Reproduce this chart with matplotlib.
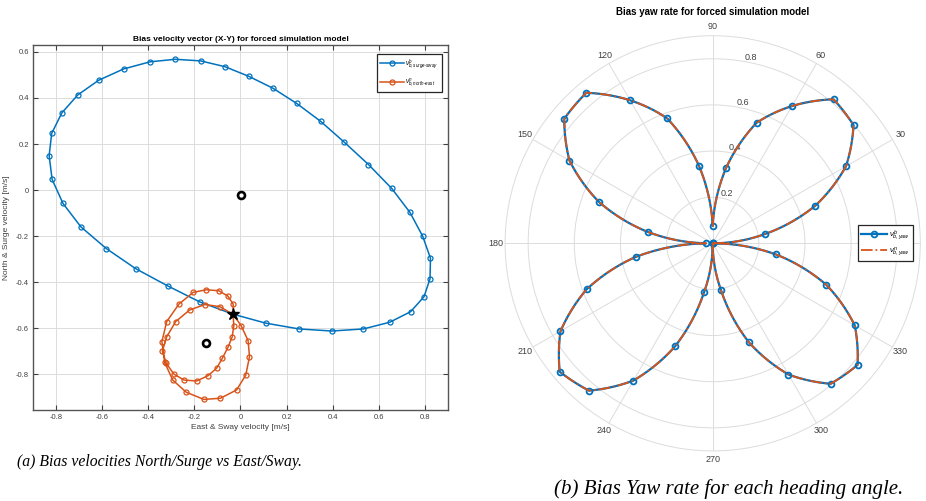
import numpy as np
import matplotlib
matplotlib.use("Agg")
import matplotlib.pyplot as plt

plt.rcParams['font.family'] = ['Liberation Sans', 'DejaVu Sans']
plt.rcParams['mathtext.fontset'] = 'custom'
plt.rcParams['mathtext.rm'] = 'Liberation Sans'
plt.rcParams['mathtext.it'] = 'Liberation Sans:italic'

BLUE = '#0072BD'
ORANGE = '#D95319'

# ---------------- data: left panel (body-frame bias, surge-sway) ----------------
blue_x = [-0.032, 0.110, 0.254, 0.396, 0.533, 0.647, 0.738, 0.796, 0.822, 0.824,
          0.790, 0.735, 0.656, 0.555, 0.450, 0.347, 0.244, 0.141, 0.036, -0.068,
          -0.173, -0.283, -0.392, -0.507, -0.615, -0.706, -0.775, -0.819, -0.830,
          -0.817, -0.770, -0.692, -0.582, -0.455, -0.316, -0.176, -0.032]
blue_y = [-0.539, -0.578, -0.603, -0.612, -0.603, -0.574, -0.528, -0.463, -0.385, -0.296,
          -0.200, -0.097, 0.007, 0.111, 0.208, 0.299, 0.376, 0.442, 0.494, 0.536,
          0.561, 0.568, 0.557, 0.526, 0.477, 0.413, 0.335, 0.246, 0.149,
          0.046, -0.058, -0.160, -0.254, -0.341, -0.416, -0.486, -0.539]

# north-east bias trajectory (two loops through the start point)
orange_x = [-0.032, 0.003, 0.033, 0.039, 0.023, -0.017, -0.087, -0.159, -0.235, -0.294,
            -0.329, -0.341, -0.320, -0.267, -0.205, -0.149, -0.095, -0.055, -0.032, -0.032,
            -0.029, -0.036, -0.053, -0.079, -0.104, -0.141, -0.190, -0.245, -0.289, -0.322,
            -0.339, -0.320, -0.281, -0.221, -0.155, -0.090, -0.032]
orange_y = [-0.540, -0.589, -0.654, -0.723, -0.803, -0.868, -0.904, -0.909, -0.878, -0.825,
            -0.748, -0.658, -0.571, -0.495, -0.444, -0.433, -0.437, -0.460, -0.495, -0.540,
            -0.589, -0.637, -0.680, -0.731, -0.774, -0.806, -0.829, -0.825, -0.799, -0.752,
            -0.699, -0.637, -0.571, -0.521, -0.497, -0.506, -0.540]

start_pt = (-0.032, -0.539)
centre_b = (0.003, -0.022)
centre_n = (-0.151, -0.663)

xticks = [-0.8, -0.6, -0.4, -0.2, 0, 0.2, 0.4, 0.6, 0.8]
xticklabels = ['-0.8', '-0.6', '-0.4', '-0.2', '0', '0.2', '0.4', '0.6', '0.8']
yticks = [-0.8, -0.6, -0.4, -0.2, 0, 0.2, 0.4, 0.6]
yticklabels = ['-0.8', '-0.6', '-0.4', '-0.2', '0', '0.2', '0.4', '0.6']

# ---------------- data: right panel (yaw rate vs heading) ----------------
theta_deg = [0, 10, 20, 30, 40, 50, 60, 70, 80, 90,
             100, 110, 120, 130, 140, 150, 160, 170, 180,
             190, 200, 210, 220, 230, 240, 250, 260, 270,
             280, 290, 300, 310, 320, 330, 340, 350, 360]
yaw_r = [0.0, 0.229, 0.471, 0.667, 0.797, 0.815, 0.687, 0.556, 0.330, 0.075,
         0.340, 0.576, 0.716, 0.852, 0.840, 0.717, 0.525, 0.287, 0.029,
         0.338, 0.581, 0.762, 0.866, 0.834, 0.687, 0.474, 0.215, 0.0,
         0.205, 0.455, 0.657, 0.795, 0.820, 0.711, 0.523, 0.278, 0.0]
rticks = [0.2, 0.4, 0.6, 0.8]
thetaticks = [0, 30, 60, 90, 120, 150, 180, 210, 240, 270, 300, 330]

W, H = 926, 501
fig = plt.figure(figsize=(W / 100, H / 100), dpi=100)

# ---------------- left panel ----------------
ax = fig.add_axes([33 / W, 1 - 410 / H, 415 / W, 365 / H])
ax.plot(blue_x, blue_y, '-o', color=BLUE, lw=1.1, ms=3.6, mfc='none', mew=0.9,
        label=r'$\nu^{b}_{b,surge\text{-}sway}$', zorder=3)
ax.plot(orange_x, orange_y, '-o', color=ORANGE, lw=1.1, ms=3.6, mfc='none', mew=0.9,
        label=r'$\nu^{n}_{b,north\text{-}east}$', zorder=3)
ax.plot([start_pt[0]], [start_pt[1]], marker='*', color='k', ms=9, ls='none', zorder=5)
for c in (centre_b, centre_n):
    ax.plot([c[0]], [c[1]], marker='o', ms=5, mfc='white', mec='k', mew=1.9, ls='none', zorder=5)

ax.set_xlim(-0.9, 0.9)
ax.set_ylim(-0.955, 0.63)
ax.set_xticks(xticks)
ax.set_xticklabels(xticklabels)
ax.set_yticks(yticks)
ax.set_yticklabels(yticklabels)
ax.grid(True, color='#dcdcdc', lw=0.7)
ax.set_axisbelow(True)
ax.tick_params(direction='in', length=3.5, width=0.8, labelsize=5.5, colors='#404040',
               top=True, right=True, pad=3)
for s in ax.spines.values():
    s.set_color('#555555')
    s.set_linewidth(1.0)
ax.set_title('Bias velocity vector (X-Y) for forced simulation model', fontsize=6,
             fontweight='bold', pad=3)
ax.set_xlabel('East & Sway velocity [m/s]', fontsize=6, color='#404040', labelpad=2)
ax.set_ylabel('North & Surge velocity [m/s]', fontsize=6, color='#404040', labelpad=4)
leg = ax.legend(loc='upper right', bbox_to_anchor=(442 / W, 1 - 54 / H),
                bbox_transform=fig.transFigure, borderaxespad=0, fontsize=4.7,
                fancybox=False, framealpha=1, edgecolor='#262626', handlelength=3.6,
                labelspacing=0.8, borderpad=0.5, handletextpad=0.3)
leg.get_frame().set_linewidth(0.9)

# ---------------- right panel ----------------
cx, cy, R = 712.7, 243.3, 207.6
pax = fig.add_axes([(cx - R) / W, 1 - (cy + R) / H, 2 * R / W, 2 * R / H], projection='polar')
th = np.deg2rad(theta_deg)
l1, = pax.plot(th, yaw_r, '-o', color=BLUE, lw=1.6, ms=4.2, mfc='none', mew=1.3,
               label=r'$\nu^{b}_{b,yaw}$', zorder=3)
l2, = pax.plot(th, yaw_r, '-.', color=ORANGE, lw=1.3, label=r'$\nu^{n}_{b,yaw}$', zorder=4)
for ln in (l1, l2):
    ln.get_path()._interpolation_steps = 30
pax.set_rlim(0, 0.9)
pax.set_rticks(rticks)
pax.set_yticklabels(['0.2', '0.4', '0.6', '0.8'])
pax.set_rlabel_position(80)
pax.set_thetagrids(thetaticks, [str(t) for t in thetaticks])
pax.grid(True, color='#dcdcdc', lw=0.7)
pax.spines['polar'].set_color('#dcdcdc')
pax.spines['polar'].set_linewidth(0.7)
pax.tick_params(labelsize=6.5, colors='#404040')
pax.tick_params(axis='x', pad=-4)
pax.set_title('Bias yaw rate for forced simulation model', fontsize=7, fontweight='bold', pad=15)
leg2 = pax.legend(loc='center right', bbox_to_anchor=(913 / W, 1 - 243 / H),
                  bbox_transform=fig.transFigure, borderaxespad=0, fontsize=5.5,
                  fancybox=False, framealpha=1, edgecolor='#262626', handlelength=3.4,
                  labelspacing=0.5, borderpad=0.4, handletextpad=0.3)
leg2.get_frame().set_linewidth(0.9)

# ---------------- captions ----------------
fig.text(17 / W, 1 - 462 / H, '(a) Bias velocities North/Surge vs East/Sway.',
         family='Liberation Serif', style='italic', fontsize=11.3, ha='left', va='center')
fig.text(554 / W, 1 - 489 / H, '(b) Bias Yaw rate for each heading angle.',
         family='Liberation Serif', style='italic', fontsize=15.0, ha='left', va='center')

fig.savefig('out.png', dpi=100)
